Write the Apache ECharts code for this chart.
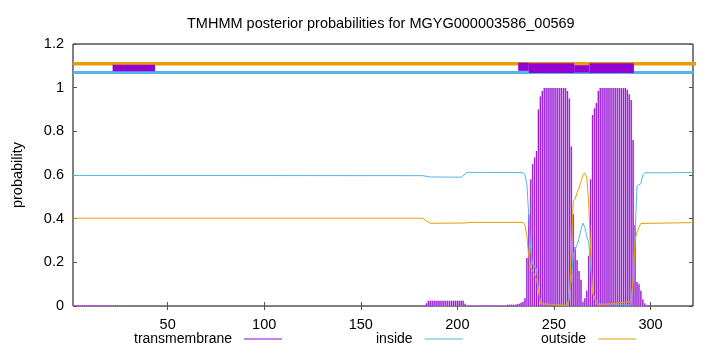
<!DOCTYPE html>
<html><head><meta charset="utf-8">
<script src="https://cdn.jsdelivr.net/npm/echarts@6/dist/echarts.min.js"></script>
<style>html,body{margin:0;padding:0;background:#fff}#c{width:720px;height:352px}</style>
</head><body><div id="c"></div>
<script>
const titleText = 'TMHMM posterior probabilities for MGYG000003586_00569';
const xTicks = [50, 100, 150, 200, 250, 300];
const seqLength = 322;

// transmembrane posterior probability per residue [residue, probability]
const transmembrane = [
 [1,0.003],[2,0.003],[3,0.003],[4,0.003],[5,0.003],[6,0.003],[7,0.003],[8,0.003],[9,0.003],[10,0.003],
 [11,0.003],[12,0.003],[13,0.003],[14,0.003],[15,0.003],[16,0.003],[17,0.003],[18,0.003],[19,0.003],[20,0.003],
 [21,0.003],[22,0.003],[23,0.003],[24,0.003],[25,0.003],[26,0.003],
 [183,0.004],[184,0.012],[185,0.024],[186,0.024],[187,0.024],[188,0.024],[189,0.024],[190,0.024],[191,0.024],
 [192,0.024],[193,0.024],[194,0.024],[195,0.024],[196,0.024],[197,0.024],[198,0.024],[199,0.024],[200,0.024],
 [201,0.024],[202,0.024],[203,0.024],[204,0.01],
 [205,0.002],[206,0.002],[207,0.002],[208,0.002],[209,0.002],[210,0.002],[211,0.002],[212,0.002],[213,0.002],[214,0.002],
 [215,0.004],[216,0.004],[217,0.004],[218,0.004],[219,0.004],[220,0.004],[221,0.004],[222,0.004],[223,0.004],[224,0.004],[225,0.004],
 [226,0.006],[227,0.006],[228,0.006],[229,0.006],[230,0.006],
 [231,0.008],[232,0.01],[233,0.015],[234,0.02],[235,0.035],[236,0.22],[237,0.42],[238,0.58],[239,0.65],[240,0.68],
 [241,0.71],[242,0.90],[243,0.96],[244,0.985],[245,0.998],[246,0.998],[247,0.998],[248,0.998],[249,0.998],[250,0.998],
 [251,0.998],[252,0.998],[253,0.998],[254,0.998],[255,0.998],[256,0.998],[257,0.985],[258,0.95],[259,0.73],[260,0.42],
 [261,0.27],[262,0.21],[263,0.16],[264,0.12],[265,0.02],[266,0.035],[267,0.07],[268,0.23],[269,0.58],[270,0.875],
 [271,0.905],[272,0.93],[273,0.985],[274,0.998],[275,0.998],[276,0.998],[277,0.998],[278,0.998],[279,0.998],[280,0.998],
 [281,0.998],[282,0.998],[283,0.998],[284,0.998],[285,0.998],[286,0.998],[287,0.998],[288,0.99],[289,0.97],[290,0.944],
 [291,0.76],[292,0.37],[293,0.11],[294,0.10],[295,0.07],[296,0.03],[297,0.012],[298,0.004]
];

// inside posterior probability [residue, probability]
const inside = [
 [1,0.598],[182,0.597],[186,0.591],[202,0.590],[205,0.612],[234,0.611],[235,0.60],[236,0.56],[237,0.41],[238,0.25],
 [239,0.19],[240,0.18],[241,0.17],[242,0.08],[243,0.01],[244,0.002],[257,0.003],[258,0.01],[259,0.12],[260,0.23],
 [261,0.26],[262,0.28],[263,0.31],[264,0.35],[265,0.38],[266,0.36],[267,0.32],[268,0.29],[269,0.18],[270,0.07],
 [271,0.035],[272,0.01],[273,0.002],[290,0.005],[291,0.12],[292,0.33],[293,0.55],[294,0.55],[295,0.56],[296,0.60],
 [297,0.61],[322,0.611]
];

// outside posterior probability [residue, probability]
const outside = [
 [1,0.402],[182,0.402],[184,0.39],[186,0.379],[204,0.380],[207,0.383],[234,0.383],[235,0.37],[236,0.32],[237,0.226],
 [238,0.175],[239,0.16],[240,0.145],[241,0.12],[242,0.07],[243,0.01],[244,0.002],[257,0.003],[258,0.03],[259,0.25],
 [260,0.48],[261,0.49],[262,0.52],[263,0.54],[264,0.57],[265,0.60],[266,0.61],[267,0.59],[268,0.47],[269,0.26],
 [270,0.055],[271,0.045],[272,0.02],[273,0.005],[290,0.02],[291,0.12],[292,0.30],[293,0.34],[294,0.36],[295,0.378],
 [296,0.382],[322,0.382]
];

// predicted topology track at the top: [startResidue, endResidue, low, high]
const helixBoxes = [
 [21.5,43.5,1.075,1.105],
 [231.5,237.0,1.077,1.114],
 [237.0,260.5,1.067,1.112],
 [260.5,268.4,1.069,1.103],
 [268.4,291.4,1.067,1.112]
];
const outsideTrack = [[1,1.11],[336,1.11]];
const insideTrack = [[1,1.07],[322,1.07]];

const FONT = 'Liberation Sans, Arial, Helvetica, sans-serif';
const FS = 14.5;
const PURPLE = '#9400d3', BLUE = '#56b4e9', ORANGE = '#e69f00';
const chart = echarts.init(document.getElementById('c'), null, {renderer:'canvas'});

function legendFor(name, left) {
  return {
    left: left, top: 332, data: [name], align: 'right', icon: 'rect',
    itemWidth: 38, itemHeight: 1, selectedMode: false, padding: 0,
    textStyle: {fontFamily: FONT, fontSize: 14, color: '#000', padding: [0, 7, 0, 0]}
  };
}

chart.setOption({
  animation: false,
  backgroundColor: '#fff',
  title: {
    text: titleText, left: 182, top: 11,
    textStyle: {fontFamily: FONT, fontSize: FS, fontWeight: 'normal', color: '#000'}
  },
  legend: [legendFor('transmembrane', 134), legendFor('inside', 376), legendFor('outside', 541)],
  grid: {left: 73, right: 27, top: 44, bottom: 46, show: true, borderColor: '#000', borderWidth: 1, backgroundColor: 'transparent'},
  xAxis: [
    {type: 'value', min: 1, max: seqLength, position: 'bottom',
     axisLine: {show: false}, splitLine: {show: false},
     axisTick: {inside: true, length: 4, customValues: xTicks, lineStyle: {color: '#555'}},
     axisLabel: {customValues: xTicks, margin: 11, fontFamily: FONT, fontSize: FS, color: '#000'}},
    {type: 'value', min: 1, max: seqLength, position: 'top',
     axisLine: {show: false}, splitLine: {show: false},
     axisTick: {inside: true, length: 4, customValues: xTicks, lineStyle: {color: '#555'}},
     axisLabel: {show: false}}
  ],
  yAxis: [
    {type: 'value', min: 0, max: 1.2, interval: 0.2, position: 'left',
     name: 'probability', nameLocation: 'middle', nameRotate: 90, nameGap: 48,
     nameTextStyle: {fontFamily: FONT, fontSize: FS, color: '#000'},
     axisLine: {show: false}, splitLine: {show: false},
     axisTick: {inside: true, length: 4, lineStyle: {color: '#555'}},
     axisLabel: {margin: 9, fontFamily: FONT, fontSize: FS, color: '#000'}},
    {type: 'value', min: 0, max: 1.2, interval: 0.2, position: 'right',
     axisLine: {show: false}, splitLine: {show: false},
     axisTick: {inside: true, length: 4, lineStyle: {color: '#555'}},
     axisLabel: {show: false}}
  ],
  series: [
    {
      name: 'transmembrane', type: 'custom', xAxisIndex: 0, yAxisIndex: 0,
      itemStyle: {color: PURPLE}, z: 2,
      encode: {x: 0, y: 1},
      data: transmembrane,
      renderItem: function (params, api) {
        const x = api.value(0), y = api.value(1);
        const base = api.coord([x, 0]);
        const top = api.coord([x, y]);
        const w = api.size([1, 0])[0];
        const h = Math.max(base[1] - top[1], 0.6);
        return {type: 'group', children: [
          {type: 'rect', shape: {x: base[0] - w / 2, y: base[1] - h, width: w, height: h}, style: {fill: '#dcaaf1'}},
          {type: 'rect', shape: {x: base[0] - 0.6, y: base[1] - h, width: 1.2, height: h}, style: {fill: '#9a1ed6'}}
        ]};
      }
    },
    {name: 'inside', type: 'line', data: inside, color: BLUE, symbol: 'none', z: 3,
     lineStyle: {width: 1, color: BLUE}},
    {name: 'outside', type: 'line', data: outside, color: ORANGE, symbol: 'none', z: 3,
     lineStyle: {width: 1, color: ORANGE}},
    {name: 'outsideTrack', type: 'line', data: outsideTrack, symbol: 'none', clip: false, z: 4,
     lineStyle: {width: 3.5, color: ORANGE}, color: ORANGE},
    {name: 'insideTrack', type: 'line', data: insideTrack, symbol: 'none', z: 4,
     lineStyle: {width: 3, color: BLUE}, color: BLUE},
    {
      name: 'helixTrack', type: 'custom', z: 5, itemStyle: {color: PURPLE},
      encode: {x: [0, 1], y: [2, 3]},
      data: helixBoxes,
      renderItem: function (params, api) {
        const p0 = api.coord([api.value(0), api.value(3)]);
        const p1 = api.coord([api.value(1), api.value(2)]);
        return {type: 'rect', shape: {x: p0[0], y: p0[1], width: p1[0] - p0[0], height: p1[1] - p0[1]},
                style: {fill: PURPLE}};
      }
    }
  ]
});
</script>
</body></html>
